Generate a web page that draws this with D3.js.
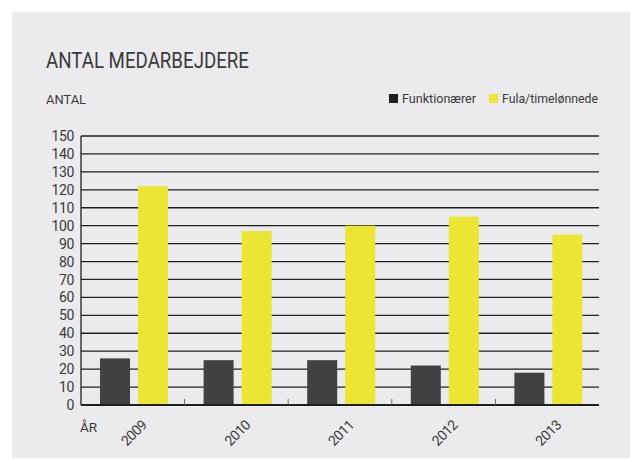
<!DOCTYPE html>
<html>
<head>
<meta charset="utf-8">
<script src="https://cdn.jsdelivr.net/npm/d3@7"></script>
<style>
    body { margin: 0; background: #fff; }
    text { font-family: Roboto, "DejaVu Sans", sans-serif; fill: #3a3a3a; }
</style>
</head>
<body>
<div id="chart"></div>
<script>
// data
const years = ['2009', '2010', '2011', '2012', '2013']
const seriesNames = ['Funktionærer', 'Fula/timelønnede']
const funktionaerer = [26, 25, 25, 22, 18]
const timeloennede = [122, 97, 100, 105, 95]
const yTicks = d3.range(0, 151, 10)

const colors = ['#414042', '#ebe534']
const W = 630, H = 459
const m = {left: 81, right: 599, top: 136, bottom: 405}

const svg = d3.select('#chart').append('svg')
    .attr('width', W)
    .attr('height', H)

// grey panel
svg.append('rect')
    .attr('x', 12).attr('y', 12)
    .attr('width', W - 12).attr('height', H - 13)
    .attr('fill', '#ebebed')

svg.append('text')
    .attr('x', 46).attr('y', 68)
    .style('font-size', '22px')
    .attr('textLength', 203)
    .attr('lengthAdjust', 'spacingAndGlyphs')
    .text('ANTAL MEDARBEJDERE')

svg.append('text')
    .attr('x', 46).attr('y', 104)
    .style('font-size', '13.5px')
    .attr('textLength', 40)
    .attr('lengthAdjust', 'spacingAndGlyphs')
    .text('ANTAL')

const x0 = d3.scaleBand().domain(years).range([m.left, m.right]).padding(0)
const x1 = d3.scaleBand().domain(seriesNames).range([19, 87]).paddingInner(0.2105).paddingOuter(0)
const y = d3.scaleLinear().domain([0, 150]).range([m.bottom, m.top])

// gridlines
svg.append('g')
    .selectAll('line')
    .data(yTicks.filter(d => d > 0))
    .enter()
    .append('line')
    .attr('x1', m.left).attr('x2', m.right)
    .attr('y1', d => y(d)).attr('y2', d => y(d))
    .attr('stroke', '#1f1f1f')
    .attr('stroke-width', 1.3)

// y labels
svg.append('g')
    .selectAll('text')
    .data(yTicks)
    .enter()
    .append('text')
    .attr('x', 74)
    .attr('y', d => y(d))
    .attr('dy', '0.36em')
    .attr('text-anchor', 'end')
    .style('font-size', '14px')
    .style('letter-spacing', '-0.4px')
    .text(d => d)

const rows = years.map((yr, i) => ({year: yr, values: [funktionaerer[i], timeloennede[i]]}))

const groups = svg.append('g')
    .selectAll('g')
    .data(rows)
    .enter()
    .append('g')
    .attr('transform', d => `translate(${x0(d.year)},0)`)

groups.selectAll('rect')
    .data(d => d.values.map((v, j) => ({name: seriesNames[j], value: v, j: j})))
    .enter()
    .append('rect')
    .attr('x', d => x1(d.name))
    .attr('width', x1.bandwidth())
    .attr('y', d => y(d.value))
    .attr('height', d => y(0) - y(d.value))
    .attr('fill', d => colors[d.j])

// axis lines
svg.append('line')
    .attr('x1', m.left).attr('x2', m.left)
    .attr('y1', m.top).attr('y2', m.bottom)
    .attr('stroke', '#1f1f1f').attr('stroke-width', 1.3)
svg.append('line')
    .attr('x1', m.left).attr('x2', m.right)
    .attr('y1', m.bottom).attr('y2', m.bottom)
    .attr('stroke', '#1f1f1f').attr('stroke-width', 2)

// small ticks between year groups
svg.append('g')
    .selectAll('line')
    .data(years.slice(1))
    .enter()
    .append('line')
    .attr('x1', d => x0(d)).attr('x2', d => x0(d))
    .attr('y1', m.bottom).attr('y2', m.bottom - 6)
    .attr('stroke', '#666').attr('stroke-width', 1)

// year labels
svg.append('g')
    .selectAll('text')
    .data(years)
    .enter()
    .append('text')
    .attr('transform', d => `translate(${x0(d) + x0.bandwidth() / 2 + 8},${419}) rotate(-45)`)
    .attr('text-anchor', 'end')
    .attr('dy', '0.7em')
    .style('font-size', '14px')
    .style('letter-spacing', '-0.5px')
    .text(d => d)

svg.append('text')
    .attr('x', 80).attr('y', 432)
    .style('font-size', '13.5px')
    .text('ÅR')

// legend
const legend = svg.append('g')
    .selectAll('g')
    .data(seriesNames)
    .enter()
    .append('g')
    .attr('transform', (d, i) => `translate(${[389, 489][i]},94)`)
legend.append('rect')
    .attr('width', 9).attr('height', 9)
    .attr('fill', (d, i) => i === 0 ? '#231f20' : colors[1])
legend.append('text')
    .attr('x', 13).attr('y', 9)
    .style('font-size', '12.5px')
    .attr('textLength', (d, i) => [74, 96][i])
    .attr('lengthAdjust', 'spacingAndGlyphs')
    .text(d => d)
</script>
</body>
</html>
